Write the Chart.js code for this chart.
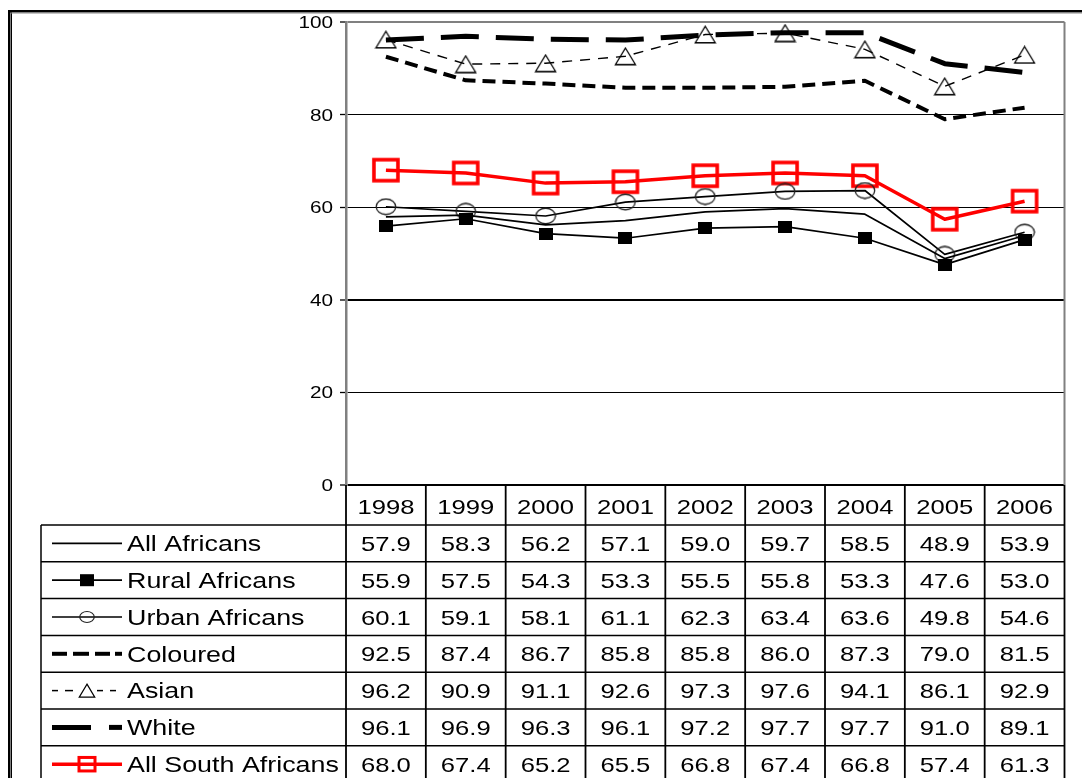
<!DOCTYPE html>
<html><head><meta charset="utf-8">
<script src="https://cdn.jsdelivr.net/npm/chart.js@4.4.1/dist/chart.umd.min.js"></script>
<style>html,body{margin:0;padding:0;background:#fff;overflow:hidden}</style>
</head><body>
<canvas id="c" width="1082" height="778" style="display:block;width:1082px;height:778px"></canvas>
<script>
// ---------- data ----------
const years = ['1998','1999','2000','2001','2002','2003','2004','2005','2006'];
const allAfricans   = [57.9, 58.3, 56.2, 57.1, 59.0, 59.7, 58.5, 48.9, 53.9];
const ruralAfricans = [55.9, 57.5, 54.3, 53.3, 55.5, 55.8, 53.3, 47.6, 53.0];
const urbanAfricans = [60.1, 59.1, 58.1, 61.1, 62.3, 63.4, 63.6, 49.8, 54.6];
const coloured      = [92.5, 87.4, 86.7, 85.8, 85.8, 86.0, 87.3, 79.0, 81.5];
const asian         = [96.2, 90.9, 91.1, 92.6, 97.3, 97.6, 94.1, 86.1, 92.9];
const white         = [96.1, 96.9, 96.3, 96.1, 97.2, 97.7, 97.7, 91.0, 89.1];
const allSouthAfricans = [68.0, 67.4, 65.2, 65.5, 66.8, 67.4, 66.8, 57.4, 61.3];
const seriesNames = ['All Africans','Rural Africans','Urban Africans','Coloured','Asian','White','All South Africans'];
const yTickValues = [0, 20, 40, 60, 80, 100];

// ---------- styling helpers ----------
const SX = 1.22; // horizontal stretch of the original picture
const FONT = '"Liberation Sans", Arial, sans-serif';
const RED = '#ff0000';

function drawShape(g, type, cx, cy, w, h, lw) {
  g.save();
  if (type === 'fsq') {
    g.fillStyle = '#000';
    g.fillRect(cx - w / 2, cy - h / 2, w, h);
  } else if (type === 'circ') {
    g.strokeStyle = '#222'; g.lineWidth = lw || 1.3;
    g.beginPath(); g.ellipse(cx, cy, w / 2, h / 2, 0, 0, Math.PI * 2); g.stroke();
  } else if (type === 'tri') {
    g.strokeStyle = '#000'; g.lineWidth = lw || 1.3; g.lineJoin = 'miter';
    g.beginPath(); g.moveTo(cx, cy - h / 2); g.lineTo(cx + w / 2, cy + h / 2); g.lineTo(cx - w / 2, cy + h / 2); g.closePath(); g.stroke();
  } else if (type === 'rsq') {
    g.strokeStyle = RED; g.lineWidth = lw || 3.5;
    g.strokeRect(cx - w / 2, cy - h / 2, w, h);
  }
  g.restore();
}
function marker(type, cw, ch, w, h, lw) {
  const c = document.createElement('canvas');
  c.width = cw; c.height = ch;
  drawShape(c.getContext('2d'), type, cw / 2, ch / 2, w, h, lw);
  return c;
}
const mRural = marker('fsq', 14, 12, 14, 12);
const mUrban = marker('circ', 22, 18, 19.5, 15.5, 1.3);
const mAsian = marker('tri', 23, 19, 20, 16.5, 1.3);
const mAll   = marker('rsq', 30, 27, 24, 21, 3.6);

function stretchedText(ctx, txt, x, y, size, align) {
  ctx.save();
  ctx.font = size + 'px ' + FONT;
  ctx.fillStyle = '#000';
  ctx.textAlign = align || 'left';
  ctx.textBaseline = 'alphabetic';
  ctx.translate(x, y + 0.358 * size);
  ctx.scale(SX, 1);
  ctx.fillText(txt, 0, 0);
  ctx.restore();
}
function seg(ctx, x1, x2, y, lw, color) {
  ctx.save(); ctx.strokeStyle = color || '#000'; ctx.lineWidth = lw;
  ctx.beginPath(); ctx.moveTo(x1, y); ctx.lineTo(x2, y); ctx.stroke(); ctx.restore();
}

// ---------- table / frame plugin ----------
const tablePlugin = {
  id: 'tablePlugin',
  afterDraw(chart) {
    const ctx = chart.ctx;
    const xs = chart.scales.x, ys = chart.scales.y, area = chart.chartArea;
    const allSeries = chart.data.datasets.map(d => d.data);

    // outer frame
    ctx.save();
    ctx.fillStyle = '#000';
    ctx.fillRect(8, 10, 1074, 2.5);
    ctx.fillRect(8, 10, 2.5, 768);
    ctx.fillRect(11, 12, 1, 766);
    ctx.fillStyle = '#888';
    ctx.fillRect(11, 12.5, 1071, 1);
    ctx.restore();

    // right border of plot
    ctx.save();
    ctx.strokeStyle = '#808080'; ctx.lineWidth = 2;
    ctx.beginPath(); ctx.moveTo(area.right, area.top); ctx.lineTo(area.right, area.bottom); ctx.stroke();
    ctx.restore();

    // y tick labels
    yTickValues.forEach(v => {
      stretchedText(ctx, String(v), 333, ys.getPixelForValue(v), 17, 'right');
    });

    // table geometry
    const half = (xs.getPixelForValue(1) - xs.getPixelForValue(0)) / 2;
    const colL = xs.getPixelForValue(0) - half;
    const colR = xs.getPixelForValue(years.length - 1) + half;
    const headTop = area.bottom, headBot = 525, rowH = 36.8, legL = 41;
    const tableBot = 790;

    ctx.save();
    ctx.strokeStyle = '#000';
    // horizontal
    ctx.lineWidth = 1.5;
    for (let i = 0; i <= seriesNames.length; i++) {
      const y = headBot + i * rowH;
      ctx.beginPath(); ctx.moveTo(legL, y); ctx.lineTo(colR, y); ctx.stroke();
    }
    // vertical
    ctx.beginPath(); ctx.moveTo(legL, headBot); ctx.lineTo(legL, tableBot); ctx.stroke();
    for (let i = 0; i <= years.length; i++) {
      const x = colL + i * 2 * half;
      ctx.lineWidth = 1.8;
      ctx.beginPath(); ctx.moveTo(x, headTop); ctx.lineTo(x, tableBot); ctx.stroke();
    }
    ctx.restore();

    // header
    years.forEach((yr, i) => stretchedText(ctx, yr, xs.getPixelForValue(i), (headTop + headBot) / 2 + 1, 21, 'center'));

    // rows
    seriesNames.forEach((name, r) => {
      const cy = headBot + r * rowH + rowH / 2;
      stretchedText(ctx, name, 127, cy, 22, 'left');
      allSeries[r].forEach((v, i) => stretchedText(ctx, v.toFixed(1), xs.getPixelForValue(i), cy, 21, 'center'));
      // legend samples
      if (r === 0) { seg(ctx, 52, 122, cy, 1.7); }
      if (r === 1) { seg(ctx, 52, 122, cy, 1.7); drawShape(ctx, 'fsq', 87, cy, 14, 12); }
      if (r === 2) { seg(ctx, 52, 122, cy, 1.7); drawShape(ctx, 'circ', 87, cy, 14.5, 11, 1.2); }
      if (r === 3) { [[52,67],[73,89],[95,110],[115,122]].forEach(s => seg(ctx, s[0], s[1], cy, 4)); }
      if (r === 4) { [[52,58],[65,73],[97,103],[110,116]].forEach(s => seg(ctx, s[0], s[1], cy, 1.5)); drawShape(ctx, 'tri', 87, cy, 15.5, 13, 1.2); }
      if (r === 5) { seg(ctx, 52, 91, cy, 5); seg(ctx, 109, 122, cy, 5); }
      if (r === 6) { seg(ctx, 52, 122, cy, 3.5, RED); drawShape(ctx, 'rsq', 87, cy, 16, 13.5, 3); }
    });
  }
};

// ---------- chart ----------
function ds(label, data, o) {
  return Object.assign({
    label, data, borderColor: '#000', backgroundColor: '#000', borderWidth: 1.7,
    borderDash: [], pointStyle: false, pointRadius: 0, tension: 0, fill: false
  }, o);
}
const datasets = [
  ds(seriesNames[0], allAfricans, {}),
  ds(seriesNames[1], ruralAfricans, { pointStyle: mRural, pointRadius: 8 }),
  ds(seriesNames[2], urbanAfricans, { pointStyle: mUrban, pointRadius: 10 }),
  ds(seriesNames[3], coloured, { borderWidth: 4, borderDash: [13, 7] }),
  ds(seriesNames[4], asian, { borderWidth: 1.4, borderDash: [10, 8], pointStyle: mAsian, pointRadius: 10 }),
  ds(seriesNames[5], white, { borderWidth: 5, borderDash: [38, 17] }),
  ds(seriesNames[6], allSouthAfricans, { borderColor: RED, backgroundColor: RED, borderWidth: 3.5, pointStyle: mAll, pointRadius: 14 })
];

new Chart(document.getElementById('c'), {
  type: 'line',
  data: { labels: years, datasets },
  options: {
    responsive: false, animation: false, devicePixelRatio: 1,
    layout: { padding: { left: 0, top: 22, right: 16, bottom: 293 } },
    plugins: { legend: { display: false }, tooltip: { enabled: false }, title: { display: false } },
    elements: { line: { borderCapStyle: 'butt', borderJoinStyle: 'round' } },
    scales: {
      x: { type: 'category', display: false, offset: true },
      y: {
        min: 0, max: 100,
        afterFit(s) { s.width = 346; },
        afterBuildTicks(s) { s.ticks = yTickValues.map(v => ({ value: v })); },
        ticks: { display: false, stepSize: 20 },
        border: { display: true, color: '#808080', width: 2.5 },
        grid: {
          drawTicks: true, tickLength: 6, tickColor: '#000', tickWidth: 1.3,
          color: c => (c.tick && c.tick.value === 100) ? '#808080' : '#000',
          lineWidth: c => {
            const v = c.tick ? c.tick.value : -1;
            return (v === 40 || v === 0 || v === 100) ? 2 : 1;
          }
        }
      }
    }
  },
  plugins: [tablePlugin]
});
</script>
</body></html>
